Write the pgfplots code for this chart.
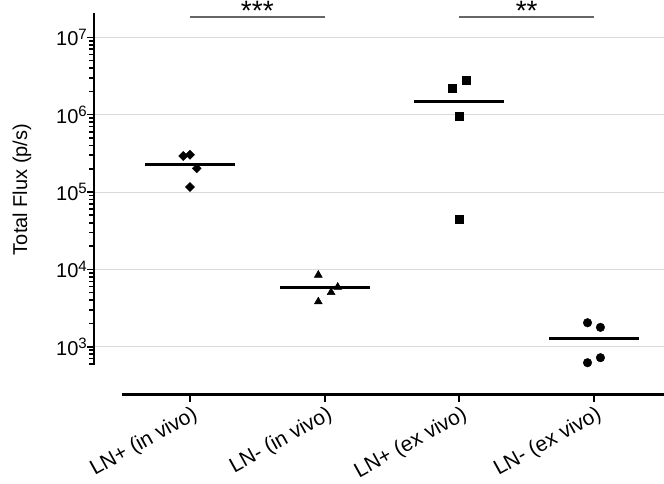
\documentclass[border=0pt]{standalone}
\usepackage{pgfplots}
\pgfplotsset{compat=1.18}
\usepackage{fontspec}
\setmainfont{Liberation Sans}
\newcommand{\pw}[1]{10\raisebox{6.5pt}{\fontsize{15}{15}\selectfont #1}}
\begin{document}
\begin{tikzpicture}
\useasboundingbox (0,0) rectangle (664pt,483pt);
\begin{axis}[
  at={(94pt,118pt)}, anchor=south west,
  scale only axis, width=570pt, height=352pt,
  xmin=-0.7127, xmax=3.52,
  ymode=log, ymin=580, ymax=2.062e7,
  axis y line*=left, axis x line*=bottom,
  axis x line shift=29.6pt,
  x axis line style={opacity=0},
  y axis line style={line width=2.6pt},
  tick align=outside,
  ytick={1e3,1e4,1e5,1e6,1e7},
  yticklabels={\pw{3},\pw{4},\pw{5},\pw{6},\pw{7}},
  minor ytick={600,700,800,900,2000,3000,4000,5000,6000,7000,8000,9000,
    20000,30000,40000,50000,60000,70000,80000,90000,
    2e5,3e5,4e5,5e5,6e5,7e5,8e5,9e5,2e6,3e6,4e6,5e6,6e6,7e6,8e6,9e6},
  major tick length=7pt, minor tick length=4.5pt,
  ytick style={line width=1.6pt, black},
  xtick style={line width=2pt, black},
  ymajorgrids, major grid style={line width=1pt, black!15},
  xtick={0,1,2,3},
  xticklabels={LN+ (in vivo),LN- (in vivo),LN+ (ex vivo),LN- (ex vivo)},
  xticklabel style={rotate=29, anchor=north east, font=\fontsize{21}{24}\selectfont, xshift=3pt},
  yticklabel style={font=\fontsize{20}{24}\selectfont, inner sep=1pt, xshift=1pt},
  ylabel={Total Flux (p/s)},
  ylabel style={at={(axis description cs:-0.1263,0.4986)}, anchor=center, font=\fontsize{20}{24}\selectfont},
  clip=false,
]
% data points
\addplot[only marks, mark=square*, mark size=3.2pt, mark options={rotate=45}, black] coordinates {
  (-0.05,2.92e5) (0,3.03e5) (0.05,2.02e5) (0,1.16e5)};
\addplot[only marks, mark=triangle*, mark size=4.6pt, black] coordinates {
  (0.953,8.45e3) (1.097,5.91e3) (1.048,5.05e3) (0.953,3.82e3)};
\addplot[only marks, mark=square*, mark size=4pt, black] coordinates {
  (1.949,2.23e6) (2.048,2.75e6) (2.0,9.69e5) (2.0,4.48e4)};
\addplot[only marks, mark=*, mark size=4.3pt, black] coordinates {
  (2.952,2.04e3) (3.048,1.78e3) (2.952,621) (3.048,721)};
% means
\addplot[black, line width=3pt] coordinates {(-0.334,2.28e5) (0.334,2.28e5)};
\addplot[black, line width=3pt] coordinates {(0.666,5.91e3) (1.334,5.91e3)};
\addplot[black, line width=3pt] coordinates {(1.666,1.5e6) (2.334,1.5e6)};
\addplot[black, line width=3pt] coordinates {(2.666,1.29e3) (3.334,1.29e3)};
% significance bars
\addplot[black!60, line width=1.8pt] coordinates {(0,1.846e7) (1,1.846e7)};
\addplot[black!60, line width=1.8pt] coordinates {(2,1.846e7) (3,1.846e7)};
\node[anchor=base, inner sep=0pt, yshift=-3.5pt] at (axis cs:0.5,1.846e7) {\fontsize{28}{28}\selectfont ***};
\node[anchor=base, inner sep=0pt, yshift=-3.5pt] at (axis cs:2.5,1.846e7) {\fontsize{28}{28}\selectfont **};
\end{axis}
\draw[line width=3pt] (121.6pt,88.4pt) -- (664pt,88.4pt);
\end{tikzpicture}
\end{document}
